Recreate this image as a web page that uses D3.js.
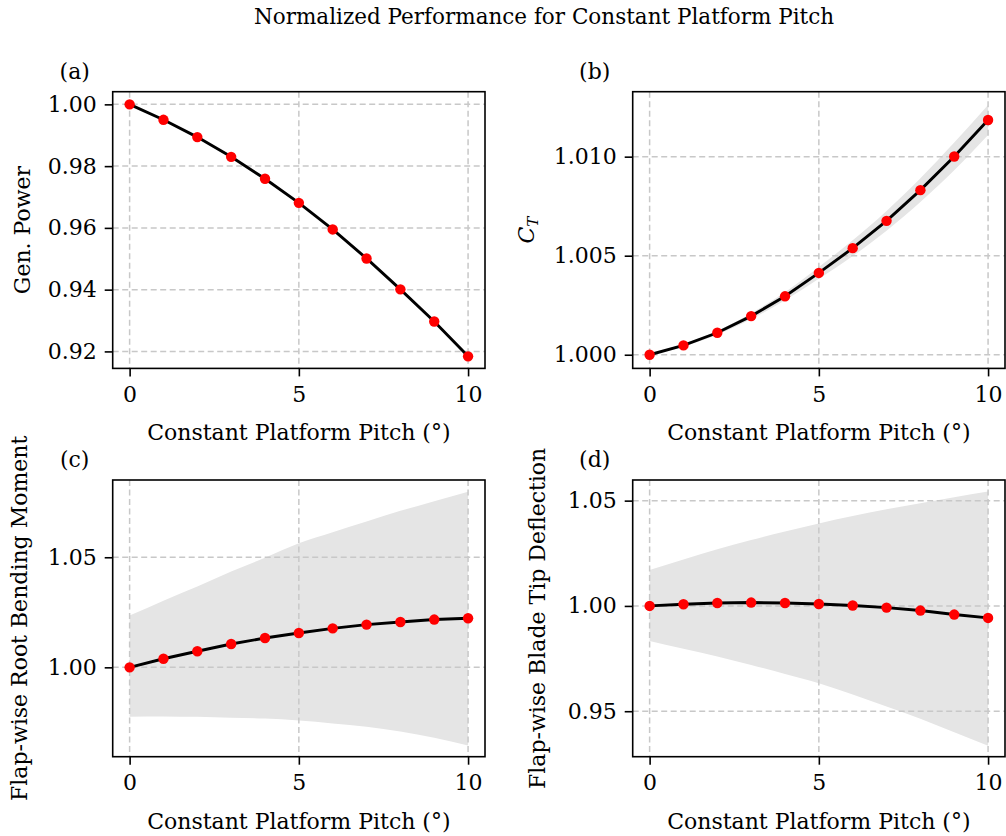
<!DOCTYPE html>
<html>
<head>
<meta charset="utf-8">
<script src="https://cdn.jsdelivr.net/npm/d3@7"></script>
<style>
  body { margin: 0; background: #fff; }
  svg { display: block; }
</style>
</head>
<body>
<svg id="chart" width="1006" height="836"></svg>
<script>
// values
const pitch = [0, 1, 2, 3, 4, 5, 6, 7, 8, 9, 10];
const xTicks = [0, 5, 10];

const genPower = [1.0000, 0.9950, 0.9894, 0.9830, 0.9759, 0.9681, 0.9595, 0.9501, 0.9401, 0.9297, 0.9184];

const thrustCoef = [1.0000, 1.00047, 1.00111, 1.00195, 1.00295, 1.00413, 1.00538, 1.00676, 1.00831, 1.01001, 1.01185];
const thrustHi = [1.0000, 1.00052, 1.00121, 1.00210, 1.00315, 1.00443, 1.00578, 1.00726, 1.00891, 1.01071, 1.01261];
const thrustLo = [1.0000, 1.00042, 1.00101, 1.00180, 1.00275, 1.00383, 1.00498, 1.00626, 1.00771, 1.00931, 1.01109];

const rootMoment = [1.0000, 1.0039, 1.0073, 1.0106, 1.0133, 1.0156, 1.0177, 1.0194, 1.0206, 1.0217, 1.0223];
const rootHi = [1.0235, 1.0303, 1.0367, 1.0435, 1.0498, 1.0564, 1.0614, 1.0662, 1.0711, 1.0755, 1.0798];
const rootLo = [0.9776, 0.9777, 0.9775, 0.9771, 0.9767, 0.9758, 0.9745, 0.9730, 0.9708, 0.9680, 0.9645];

const tipDefl = [1.0000, 1.0008, 1.0014, 1.0016, 1.0014, 1.0009, 1.0002, 0.9992, 0.9978, 0.9959, 0.9943];
const tipHi = [1.0171, 1.0221, 1.0269, 1.0313, 1.0354, 1.0392, 1.0427, 1.0459, 1.0487, 1.0516, 1.0543];
const tipLo = [0.9834, 0.9797, 0.9760, 0.9720, 0.9677, 0.9633, 0.9579, 0.9522, 0.9464, 0.9400, 0.9336];

const FONT = "'DejaVu Serif', 'Liberation Serif', serif";
const FS = 22;

const svg = d3.select("#chart");

svg.append("text")
    .attr("x", 544).attr("y", 24)
    .attr("text-anchor", "middle")
    .attr("font-family", FONT).attr("font-size", 21.5)
    .text("Normalized Performance for Constant Platform Pitch");

const panels = [
    { tag: "(a)", left: 112.7, top: 91.7, values: genPower, hi: null, lo: null, yOff: -83,
      yDomain: [0.9145, 1.0041], yTicks: [0.92, 0.94, 0.96, 0.98, 1.00], fmt: ".2f", yLabel: "Gen. Power" },
    { tag: "(b)", left: 632.7, top: 91.7, values: thrustCoef, hi: thrustHi, lo: thrustLo, yOff: -99,
      yDomain: [0.99931, 1.01328], yTicks: [1.000, 1.005, 1.010], fmt: ".3f", yLabel: "CT" },
    { tag: "(c)", left: 112.7, top: 480, values: rootMoment, hi: rootHi, lo: rootLo, yOff: -86,
      yDomain: [0.9594, 1.0851], yTicks: [1.00, 1.05], fmt: ".2f", yLabel: "Flap-wise Root Bending Moment" },
    { tag: "(d)", left: 632.7, top: 480, values: tipDefl, hi: tipHi, lo: tipLo, yOff: -88,
      yDomain: [0.9284, 1.0598], yTicks: [0.95, 1.00, 1.05], fmt: ".2f", yLabel: "Flap-wise Blade Tip Deflection" }
];

const pw = 372.3, ph = 276.7;

function drawPanel(p) {
    const g = svg.append("g").attr("transform", `translate(${p.left},${p.top})`);

    const scX = d3.scaleLinear().domain([-0.5, 10.5]).range([0, pw]);
    const scY = d3.scaleLinear().domain(p.yDomain).range([ph, 0]);

    // uncertainty band
    if (p.hi) {
        const band = pitch.map((x, i) => ({ x: x, lo: p.lo[i], hi: p.hi[i] }));
        const area = d3.area()
            .x(d => scX(d.x))
            .y0(d => scY(d.lo))
            .y1(d => scY(d.hi))
            .curve(d3.curveMonotoneX);
        g.append("path")
            .datum(band)
            .attr("d", area)
            .attr("fill", "#e5e5e5");
    }

    // dashed grid
    g.selectAll(".gx").data(xTicks).enter().append("line")
        .attr("x1", d => scX(d)).attr("x2", d => scX(d))
        .attr("y1", 0).attr("y2", ph)
        .attr("stroke", "#c8c8c8").attr("stroke-width", 1.5)
        .attr("stroke-dasharray", "6,3.5");
    g.selectAll(".gy").data(p.yTicks).enter().append("line")
        .attr("x1", 0).attr("x2", pw)
        .attr("y1", d => scY(d)).attr("y2", d => scY(d))
        .attr("stroke", "#c8c8c8").attr("stroke-width", 1.5)
        .attr("stroke-dasharray", "6,3.5");

    // line + markers
    const pts = pitch.map((x, i) => ({ x: x, y: p.values[i] }));
    g.append("path")
        .datum(pts)
        .attr("fill", "none")
        .attr("stroke", "black")
        .attr("stroke-width", 2.9)
        .attr("d", d3.line().x(d => scX(d.x)).y(d => scY(d.y)));
    g.selectAll(".dot").data(pts).enter().append("circle")
        .attr("cx", d => scX(d.x))
        .attr("cy", d => scY(d.y))
        .attr("r", 5.2)
        .attr("fill", "red");

    // axes
    const axX = g.append("g")
        .attr("transform", `translate(0,${ph})`)
        .call(d3.axisBottom(scX).tickValues(xTicks).tickSize(8).tickSizeOuter(0).tickPadding(10).tickFormat(d3.format("d")));
    const axY = g.append("g")
        .call(d3.axisLeft(scY).tickValues(p.yTicks).tickSize(8).tickSizeOuter(0).tickPadding(8).tickFormat(d3.format(p.fmt)));
    [axX, axY].forEach(a => {
        a.select(".domain").remove();
        a.attr("font-family", FONT).attr("font-size", FS);
        a.selectAll("line").attr("stroke-width", 1.6);
    });

    // frame
    g.append("rect")
        .attr("width", pw).attr("height", ph)
        .attr("fill", "none").attr("stroke", "black").attr("stroke-width", 1.6);

    // x label
    g.append("text")
        .attr("x", pw / 2).attr("y", ph + 72)
        .attr("text-anchor", "middle")
        .attr("font-family", FONT).attr("font-size", FS)
        .text("Constant Platform Pitch (°)");

    // y label
    const yl = g.append("text")
        .attr("transform", `translate(${p.yOff},${ph / 2}) rotate(-90)`)
        .attr("text-anchor", "middle")
        .attr("font-family", FONT).attr("font-size", FS);
    if (p.yLabel === "CT") {
        yl.append("tspan").attr("font-style", "italic").text("C");
        yl.append("tspan").attr("font-style", "italic").attr("font-size", 15).attr("dy", 4).text("T");
    } else {
        yl.text(p.yLabel);
    }

    // panel tag
    g.append("text")
        .attr("x", -38).attr("y", -13)
        .attr("text-anchor", "middle")
        .attr("font-family", FONT).attr("font-size", FS)
        .text(p.tag);
}

panels.forEach(drawPanel);
</script>
</body>
</html>
